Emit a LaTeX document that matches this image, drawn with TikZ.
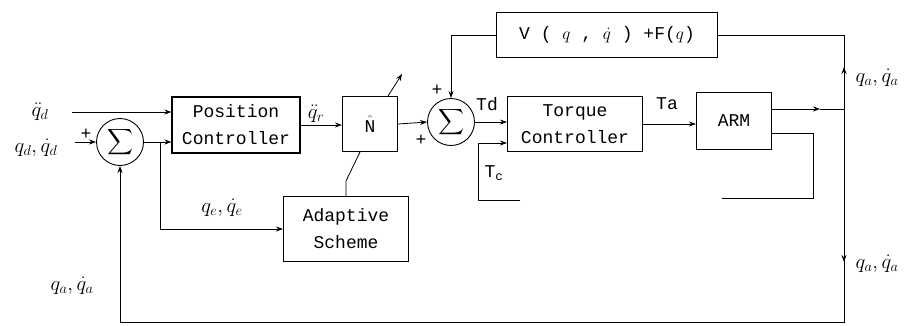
\documentclass[tikz,border=0pt]{standalone}
\usepackage{amsmath,amssymb}
\usepackage{fontspec}
\setmonofont{Liberation Mono}
\usetikzlibrary{arrows.meta, positioning}

\begin{document}
\begin{tikzpicture}[
    x=1pt, y=-1pt,
    font=\fontsize{18}{27}\selectfont\ttfamily,
    block/.style={rectangle, draw, line width=1.1pt, align=center},
    sumnode/.style={circle, draw, line width=0.9pt, minimum size=47pt, inner sep=0pt,
        font=\fontsize{18}{18}\selectfont},
    lbl/.style={inner sep=1pt},
    mlbl/.style={inner sep=1pt, font=\fontsize{21}{21}\selectfont},
    >={Stealth[length=7pt,width=5pt]},
    every path/.append style={line width=0.8pt}
]
\useasboundingbox (0,0) rectangle (909,325);

% blocks
\node[block, minimum width=128pt, minimum height=56pt] (pos) at (236,125) {Position\\Controller};
\node[block, minimum width=55pt, minimum height=55pt] (nhat) at (370,124) {$\hat{\texttt{N}}$};
\node[block, minimum width=125pt, minimum height=65pt] (adapt) at (346,229) {Adaptive\\Scheme};
\node[block, minimum width=221pt, minimum height=45pt] (vf) at (607,35) {V ( $q$ , $\dot{q}$ ) +F($q$)};
\node[block, minimum width=135pt, minimum height=55pt] (torque) at (575,124) {Torque\\Controller};
\node[block, minimum width=75pt, minimum height=57pt] (arm) at (734,121) {ARM};

% summing junctions
\node[sumnode] (sum1) at (120,142) {$\displaystyle\sum$};
\node[sumnode] (sum2) at (451,122) {$\displaystyle\sum$};

% free ends and corners
\coordinate (qddin) at (72,112);
\coordinate (qdin) at (75,142);
\coordinate (br) at (160,142);
\coordinate (tc) at (478,200);
\coordinate (jn) at (844,109);
\coordinate (vtop) at (844,35);
\coordinate (vbot) at (844,322);
\coordinate (sbot) at (120,322);
\coordinate (fb) at (813,198);

% labels
\node[mlbl] (lqdd) at (40,112) {$\ddot{q}_d$};
\node[mlbl] (lqd) at (36,148) {$q_d,\dot{q}_d$};
\node[lbl] (lp1) at (86,134) {+};
\node[mlbl] (lqr) at (316,114) {$\ddot{q}_r$};
\node[mlbl] (lqe) at (222,208) {$q_e,\dot{q}_e$};
\node[mlbl] (lqa1) at (72,286) {$q_a,\dot{q}_a$};
\node[lbl] (lp2) at (421,140) {+};
\node[lbl] (lp3) at (437,90) {+};
\node[lbl] (ltd) at (487,104) {Td};
\node[lbl] (lta) at (667,104) {Ta};
\node[lbl] (ltc) at (494,173) {T\textsubscript{c}};
\node[mlbl] (lqa2) at (877,78) {$q_a,\dot{q}_a$};
\node[mlbl] (lqa3) at (877,264) {$q_a,\dot{q}_a$};

% connectors
\draw[->] (qddin) -- (qddin -| pos.west);
\draw[->] (qdin) -- (sum1.west);
\draw[->] (sum1.east) -- (sum1.east -| pos.west);
\draw[->] (br) |- (adapt.west);
\draw[->] (pos.east) -- (pos.east -| nhat.west);
\draw ([xshift=-10pt]nhat.south) -- ([yshift=15pt]adapt.north) -- (adapt.north);
\draw[->] ([xshift=-10pt]nhat.north east) -- ++(14,-22);
\draw[->] (nhat.east) -- (sum2.west);
\draw[->] (vf.west) -| (sum2.north);
\draw[->] (sum2.east) -- (sum2.east -| torque.west);
\draw[->] ([xshift=42pt]tc) -- (tc) |- ([yshift=-19pt]torque.west);
\draw[->] (torque.east) -- (torque.east -| arm.west);
\draw[->] ([yshift=12pt]arm.east) -- ([xshift=-24pt]jn);
\draw ([xshift=-24pt]jn) -- (jn);
\draw (vf.east) -- (vtop) -- (vbot) -- (sbot);
\draw[->] (jn) -- ++(0,-42);
\draw[->] (jn) -- ++(0,153);
\draw[->] (sbot) -- (sum1.south);
\draw ([yshift=-12pt]arm.east) -| (fb) -- ++(-91,0);
\end{tikzpicture}
\end{document}
